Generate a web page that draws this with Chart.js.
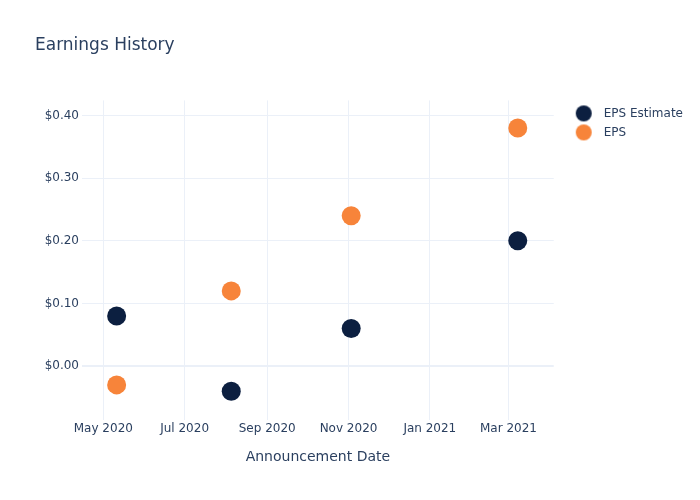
<!DOCTYPE html>
<html>
<head>
<meta charset="utf-8">
<script src="https://cdn.jsdelivr.net/npm/chart.js@4.4.1/dist/chart.umd.min.js"></script>
<style>
  html, body { margin: 0; padding: 0; background: #fff; }
  #wrap { width: 700px; height: 500px; }
</style>
</head>
<body>
<div id="wrap"><canvas id="chartEarnings" width="700" height="500"></canvas></div>
<script>
// announcement dates and values
const dates = ['2020-05-11', '2020-08-05', '2020-11-03', '2021-03-08'];
const epsEstimate = [0.08, -0.04, 0.06, 0.20];
const epsActual = [-0.03, 0.12, 0.24, 0.38];
const xTickDates = ['2020-05-01', '2020-07-01', '2020-09-01', '2020-11-01', '2021-01-01', '2021-03-01'];
const yTicks = [0.0, 0.1, 0.2, 0.3, 0.4];
const monthNames = ['Jan', 'Feb', 'Mar', 'Apr', 'May', 'Jun', 'Jul', 'Aug', 'Sep', 'Oct', 'Nov', 'Dec'];

const textColor = '#2a3f5f';
const gridColor = '#ebf0f8';
const navy = '#0c1f40';
const orange = '#f7843a';

Chart.defaults.font.family = '"DejaVu Sans", sans-serif';
Chart.defaults.font.size = 12;
Chart.defaults.color = textColor;

initChart();

function toTime(s) {
    return Date.parse(s + 'T00:00:00Z');
}

function toPoints(values) {
    return values.map((v, i) => ({ x: toTime(dates[i]), y: v }));
}

// legend marker: circle inside a wider transparent image (moves the text away from the dot)
function legendDot(color) {
    const c = document.createElement('canvas');
    c.width = 37;
    c.height = 18;
    const ctx = c.getContext('2d');
    ctx.fillStyle = color;
    ctx.beginPath();
    ctx.arc(23, 9, 8, 0, Math.PI * 2);
    ctx.fill();
    return c;
}

function initChart() {
    const colors = [navy, orange];
    const data = {
        datasets: [
            {
                label: 'EPS Estimate',
                data: toPoints(epsEstimate),
                backgroundColor: navy,
                pointBorderWidth: 0,
                pointRadius: 9.5,
                pointHoverRadius: 9.5
            },
            {
                label: 'EPS',
                data: toPoints(epsActual),
                backgroundColor: orange,
                pointBorderWidth: 0,
                pointRadius: 9.5,
                pointHoverRadius: 9.5
            }
        ]
    };

    const config = {
        type: 'scatter',
        data: data,
        options: {
            responsive: false,
            animation: false,
            layout: {
                padding: { left: 35, right: 7, top: 0, bottom: 0 }
            },
            scales: {
                x: {
                    type: 'linear',
                    min: toTime('2020-04-15'),
                    max: toTime('2021-04-04'),
                    afterBuildTicks: (axis) => {
                        axis.ticks = xTickDates.map(d => ({ value: toTime(d) }));
                    },
                    afterFit: (axis) => { axis.height = 80; },
                    ticks: {
                        padding: 2,
                        maxRotation: 0,
                        autoSkip: false,
                        callback: (v) => {
                            const d = new Date(v);
                            return monthNames[d.getUTCMonth()] + ' ' + d.getUTCFullYear();
                        }
                    },
                    grid: { color: gridColor, drawTicks: false },
                    border: { display: false },
                    title: {
                        display: true,
                        text: 'Announcement Date',
                        font: { size: 14 },
                        padding: { top: 0, bottom: 34 }
                    }
                },
                y: {
                    min: -0.086,
                    max: 0.424,
                    afterBuildTicks: (axis) => {
                        axis.ticks = yTicks.map(v => ({ value: v }));
                    },
                    afterFit: (axis) => { axis.width = 47; },
                    ticks: {
                        padding: 3,
                        callback: (v) => '$' + v.toFixed(2)
                    },
                    grid: {
                        color: gridColor,
                        drawTicks: false,
                        lineWidth: (c) => (c.tick && c.tick.value === 0 ? 2 : 1)
                    },
                    border: { display: false }
                }
            },
            plugins: {
                title: {
                    display: true,
                    text: 'Earnings History',
                    align: 'start',
                    font: { size: 17, weight: 'normal' },
                    color: textColor,
                    padding: { top: 35, bottom: 45 }
                },
                legend: {
                    position: 'right',
                    align: 'start',
                    fullSize: false,
                    labels: {
                        usePointStyle: true,
                        pointStyleWidth: 37,
                        color: textColor,
                        font: { size: 12 },
                        padding: 7,
                        generateLabels: (chart) => {
                            const items = Chart.defaults.plugins.legend.labels.generateLabels(chart);
                            items.forEach((item, i) => { item.pointStyle = legendDot(colors[i]); });
                            return items;
                        }
                    }
                },
                tooltip: { enabled: false }
            }
        }
    };

    new Chart(document.getElementById('chartEarnings'), config);
}
</script>
</body>
</html>
